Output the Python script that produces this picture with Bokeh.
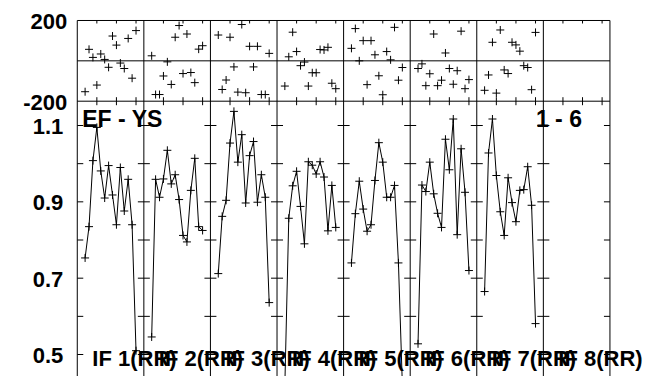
import numpy as np
from bokeh.plotting import figure
from bokeh.models import Range1d
from bokeh.core.properties import value
from bokeh.embed import file_html
from bokeh.resources import INLINE

# ---------------- data ----------------
channels = list(range(2, 16))          # channels plotted in each IF (1..16, edges flagged)
slots_per_if = 17                       # channel slots per IF panel
n_if = 8
if_labels = ["IF 1(RR)", "IF 2(RR)", "IF 3(RR)", "IF 4(RR)",
             "IF 5(RR)", "IF 6(RR)", "IF 7(RR)", "IF 8(RR)"]

amp_if1 = [0.753, 0.835, 1.008, 1.095, 0.981, 0.910, 0.995, 0.918, 0.840, 0.990, 0.876, 0.959, 0.840, 0.510]
amp_if2 = [0.546, 0.959, 0.912, 0.960, 1.035, 0.947, 0.971, 0.906, 0.812, 0.795, 0.930, 1.014, 0.835, 0.825]
amp_if3 = [0.712, 0.862, 0.904, 1.054, 1.137, 1.004, 1.076, 0.897, 1.021, 1.058, 0.899, 0.971, 0.912, 0.636]
amp_if4 = [0.420, 0.857, 0.942, 0.980, 0.888, 0.790, 1.005, 0.996, 0.973, 1.005, 0.965, 0.824, 0.943, 0.833]
amp_if5 = [0.740, 0.869, 0.954, 0.881, 0.823, 0.840, 0.956, 1.055, 1.004, 0.912, 0.912, 0.943, 0.740, 0.420]
amp_if6 = [0.528, 0.944, 0.927, 1.004, 0.921, 0.870, 0.833, 1.064, 0.984, 1.117, 0.814, 1.039, 0.925, 0.720]
amp_if7 = [0.665, 1.028, 1.117, 0.969, 0.874, 0.812, 0.963, 0.898, 0.848, 0.930, 0.932, 0.992, 0.891, 0.581]

phase_if1 = [-153, 57, 17, -120, 34, 7, -32, 123, 78, -11, -38, 111, -86, 150]
phase_if2 = [25, -167, -167, -75, -5, -117, 117, 175, -63, 133, -58, -108, 58, 75]
phase_if3 = [128, -142, -95, 117, -30, -155, 180, -158, 72, -30, 72, -167, -167, 37]
phase_if4 = [-125, 20, 142, 46, -24, -6, -125, -59, -59, 56, 54, 67, -111, -138]
phase_if5 = [62, 160, 0, 100, -118, 100, 30, -74, -168, 46, 5, 166, -96, -33]
phase_if6 = [-38, -15, -123, -64, 133, -123, -96, 39, -38, -116, -49, 147, -138, -93]
phase_if7 = [-146, -70, 92, -160, 153, -45, -63, 92, 79, 48, -24, -33, -143, 141]

amp_series = [amp_if1, amp_if2, amp_if3, amp_if4, amp_if5, amp_if6, amp_if7]
phase_series = [phase_if1, phase_if2, phase_if3, phase_if4, phase_if5, phase_if6, phase_if7]

amp_ticks = [0.5, 0.6, 0.7, 0.8, 0.9, 1.0, 1.1]
amp_tick_labels = [0.5, 0.7, 0.9, 1.1]
phase_min, phase_max = -200, 200
phase_tick_labels = [200, -200]
chan_ticks = [5, 10, 15]
title_left = "EF - YS"
title_right = "1 - 6"

# ---------------- styling ----------------
FONT = value("Liberation Sans")
INK = "black"
W, H = 649, 376

p = figure(width=W, height=H, output_backend="svg", toolbar_location=None,
           x_range=Range1d(-19.6, 146.1), y_range=Range1d(0.4424, 1.4275),
           x_axis_location=None, y_axis_location=None,
           min_border_left=0, min_border_right=0, min_border_top=0, min_border_bottom=0)
p.extra_y_ranges = {"phase": Range1d(-1564.6, 299.1)}
p.outline_line_color = None
p.background_fill_color = "white"
p.border_fill_color = "white"
for g in p.grid:
    g.visible = False

x_end = n_if * slots_per_if
bounds = [s * slots_per_if for s in range(n_if + 1)]

# vertical frame lines / IF separators (from the top edge downwards)
p.ray(x=bounds, y=[phase_max] * len(bounds), angle=-np.pi / 2, length=0,
      line_color=INK, line_width=1, y_range_name="phase")
# top edge, panel divider, zero-phase line
p.segment(x0=[0, 0, 0], y0=[phase_max, phase_min, 0],
          x1=[x_end] * 3, y1=[phase_max, phase_min, 0],
          line_color=INK, line_width=1, y_range_name="phase")

# amplitude ticks: inward at the outer edges, crossing at the separators
p.ray(x=[0] * len(amp_ticks), y=amp_ticks, angle=0, length=6, length_units="screen",
      line_color=INK, line_width=1)
p.ray(x=[x_end] * len(amp_ticks), y=amp_ticks, angle=np.pi, length=6,
      length_units="screen", line_color=INK, line_width=1)
inner = bounds[1:-1]
p.scatter([b for b in inner for t in amp_ticks], [t for b in inner for t in amp_ticks],
          marker="dash", size=12, line_color=INK, line_width=1)

# channel ticks: top edge (inward) and panel divider (crossing)
top_ticks = [s * slots_per_if + c for s in range(n_if) for c in chan_ticks]
p.ray(x=top_ticks, y=[phase_max] * len(top_ticks), angle=-np.pi / 2, length=3,
      length_units="screen", line_color=INK, line_width=1, y_range_name="phase")
p.scatter(top_ticks, [phase_min] * len(top_ticks), marker="dash", angle=np.pi / 2,
          size=8, line_color=INK, line_width=1, y_range_name="phase")

# data
for s, (amp, ph) in enumerate(zip(amp_series, phase_series)):
    xs = [s * slots_per_if + c for c in channels]
    p.line(xs, amp, line_color=INK, line_width=1)
    p.scatter(xs, amp, marker="cross", size=8, line_color=INK, line_width=1)
    p.scatter(xs, ph, marker="cross", size=8, line_color=INK, line_width=1,
              y_range_name="phase")

common = dict(text_font=FONT, text_font_style="bold", text_color=INK)

# axis labels
p.text(x=[0] * len(amp_tick_labels), y=amp_tick_labels,
       text=[f"{v:.1f}" for v in amp_tick_labels], text_align="right",
       text_baseline="middle", x_offset=-14, y_offset=1, text_font_size="22px", **common)
p.text(x=[0] * len(phase_tick_labels), y=phase_tick_labels,
       text=[str(v) for v in phase_tick_labels], text_align="right",
       text_baseline="middle", x_offset=-10, y_offset=1, text_font_size="22px",
       y_range_name="phase", **common)

# titles
p.text(x=[0], y=[phase_min], text=[title_left], text_align="left", text_baseline="top",
       x_offset=5, y_offset=5, text_font_size="23px", y_range_name="phase", **common)
p.text(x=[x_end], y=[phase_min], text=[title_right], text_align="right",
       text_baseline="top", x_offset=-28, y_offset=5, text_font_size="23px",
       y_range_name="phase", **common)

# IF labels
p.text(x=bounds[:-1], y=[amp_ticks[0]] * n_if, text=if_labels, text_align="left",
       text_baseline="middle", x_offset=15, y_offset=4, text_font_size="22px",
       **common)

open("out.html", "w").write(file_html(p, INLINE))
